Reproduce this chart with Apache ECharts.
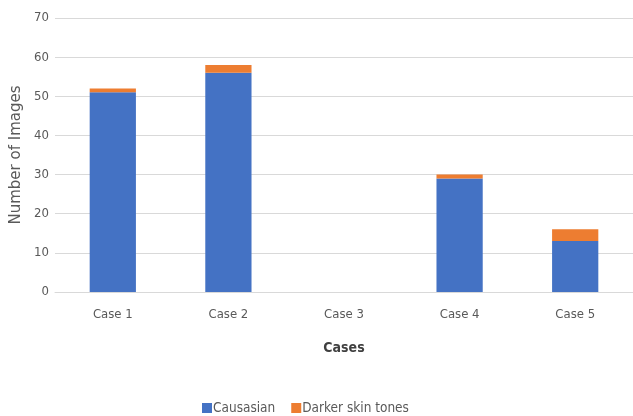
<!DOCTYPE html>
<html><head><meta charset="utf-8">
<script src="https://cdn.jsdelivr.net/npm/echarts@6/dist/echarts.min.js"></script>
<style>html,body{margin:0;padding:0;background:#fff}#c{width:633px;height:416px}</style>
</head><body><div id="c"></div>
<script>
const categories = ['Case 1','Case 2','Case 3','Case 4','Case 5'];
const caucasian = [51, 56, 0, 29, 13];
const darker = [1, 2, 0, 1, 3];
const yTicks = [0,10,20,30,40,50,60,70];
const FONT = '"DejaVu Sans Condensed", "Liberation Sans Narrow", sans-serif';
const chart = echarts.init(document.getElementById('c'));
chart.setOption({
  animation: false,
  textStyle: {fontFamily: FONT},
  grid: {left: 55, right: -5, top: 18, bottom: 124},
  legend: {
    top: 396, left: 197, itemWidth: 10, itemHeight: 10, itemGap: 16,
    icon: 'rect',
    textStyle: {fontFamily: FONT, fontSize: 13.5, color: '#595959', padding: [0,0,0,-4]},
    data: ['Causasian','Darker skin tones']
  },
  xAxis: {
    type: 'category', data: categories,
    name: 'Cases', nameLocation: 'middle', nameGap: 49,
    nameTextStyle: {fontFamily: FONT, fontSize: 14, fontWeight: 'bold', color: '#404040'},
    axisLine: {lineStyle: {color: '#d9d9d9', width: 1}},
    axisTick: {show: false},
    axisLabel: {fontFamily: FONT, fontSize: 13, color: '#595959', margin: 16}
  },
  yAxis: {
    type: 'value', min: 0, max: 70, interval: 10,
    name: 'Number of Images', nameLocation: 'middle', nameGap: 26,
    nameTextStyle: {fontFamily: '"DejaVu Sans", sans-serif', fontSize: 15, color: '#595959'},
    axisLine: {show: false}, axisTick: {show: false},
    axisLabel: {fontFamily: FONT, fontSize: 13, color: '#595959', margin: 6,
      formatter: v => yTicks.includes(v) ? String(v) : ''},
    splitLine: {lineStyle: {color: '#d9d9d9', width: 1}}
  },
  series: [
    {name: 'Causasian', type: 'bar', stack: 's', data: caucasian, barWidth: '40%',
     itemStyle: {color: '#4472C4'}},
    {name: 'Darker skin tones', type: 'bar', stack: 's', data: darker, barWidth: '40%',
     itemStyle: {color: '#ED7D31'}}
  ]
});
</script></body></html>
